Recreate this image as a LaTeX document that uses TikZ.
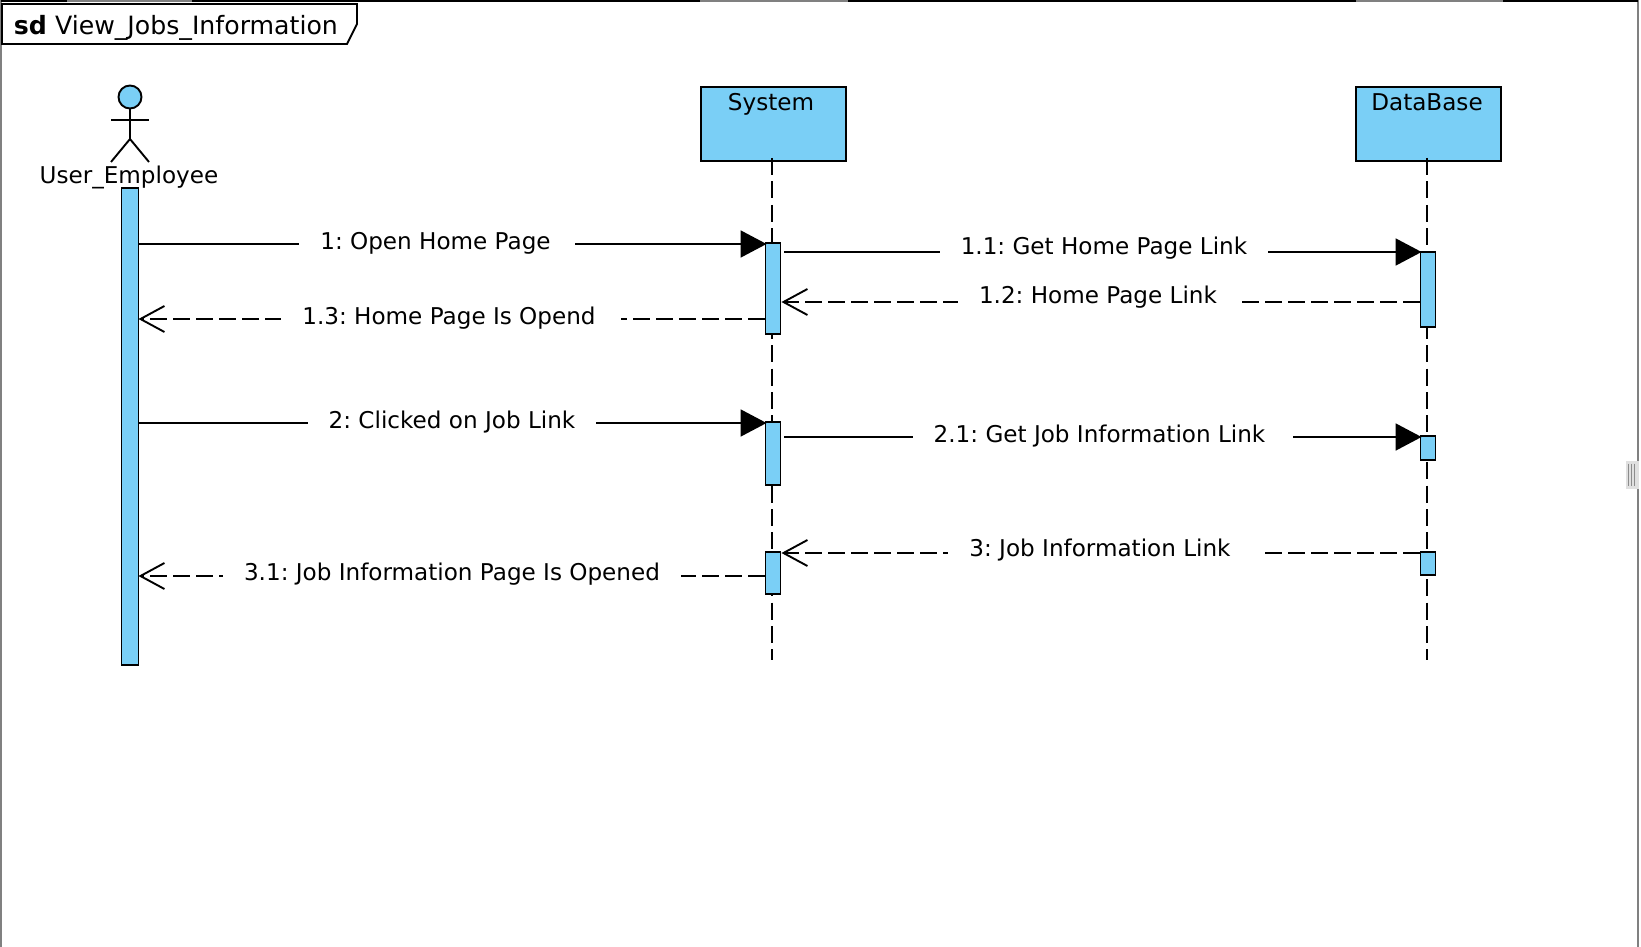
\documentclass[tikz,border=0pt]{standalone}
\usepackage{fontspec}
\setmainfont{DejaVu Sans}
\usepackage{xcolor}
\usetikzlibrary{arrows.meta, positioning, calc}
\definecolor{lifeblue}{HTML}{7ACFF6}
\frenchspacing
\begin{document}
\begin{tikzpicture}[
    x=1pt, y=-1pt,
    line width=1.9pt,
    headbox/.style={rectangle, draw, fill=lifeblue, minimum width=145pt, minimum height=74pt, anchor=north west, inner sep=0pt},
    headtext/.style={font=\fontsize{23.1}{28}\selectfont, anchor=base},
    activation/.style={rectangle, draw, fill=lifeblue, minimum width=15pt, anchor=north, inner sep=0pt},
    lifeline/.style={dash pattern=on 17pt off 6.4pt},
    msglabel/.style={fill=white, font=\fontsize{23.1}{28}\selectfont, inner xsep=21pt, inner ysep=2pt},
    call/.style={-{Triangle[length=26pt, width=27pt]}},
    reply/.style={-{Straight Barb[length=24pt, width=26pt]}, dash pattern=on 17pt off 6pt},
  ]
    \useasboundingbox (0,0) rectangle (1641,947);

    % Frame
    \draw[gray, line width=1.2pt] (1,947) -- (1,1) -- (1638,1) -- (1638,947);
    \draw[black, line width=1.6pt] (1,1) -- (67,1) (192,1) -- (700,1) (848,1) -- (1356,1) (1503,1) -- (1638,1);
    \node[draw, line width=1pt, fill=black!12, draw=black!12, minimum width=12pt, minimum height=27pt, inner sep=0pt] (grip) at (1632,474.5) {};
    \foreach \gx in {-4,-1,2} {
      \draw[black!45, line width=1pt] ($(grip.center)+(\gx,-11)$) -- ($(grip.center)+(\gx,11)$);
    }

    % Tab
    \draw[fill=white] (2,4) -- (357,4) -- (357,24) -- (347,44) -- (2,44) -- cycle;
    \node[anchor=base west, inner sep=0pt, font=\fontsize{25.2}{28}\selectfont] (title) at (13,35) {\textbf{sd}\hspace{0.32em}View\_Jobs\_Information};

    % User_Employee
    \node[circle, draw, fill=lifeblue, minimum size=23pt, inner sep=0pt] (head) at (130,97) {};
    \coordinate (hip) at (130,139);
    \draw (head.south) -- (hip);
    \draw (111,120) -- (149,120);
    \draw (111,162) -- (hip) -- (149,162);
    \node[headtext] (user) at (129,183) {User\_Employee};
    \node[activation, minimum width=17pt, minimum height=477pt] (useract) at (130,187) {};

    % System
    \node[headbox] (system) at (700,86) {};
    \node[headtext] (systemname) at (771,111) {System};
    \coordinate (sysend) at (772,660);
    \draw[lifeline] (772,158) -- (sysend);
    \node[activation, minimum height=91pt] (sysone) at (773,242) {};
    \node[activation, minimum height=63pt] (systwo) at (773,421) {};
    \node[activation, minimum height=42pt] (systhree) at (773,551) {};

    % DataBase
    \node[headbox] (database) at (1355,86) {};
    \node[headtext] (databasename) at (1427,111) {DataBase};
    \coordinate (dbend) at (1427,660);
    \draw[lifeline] (1427,158) -- (dbend);
    \node[activation, minimum height=75pt] (dbone) at (1428,251) {};
    \node[activation, minimum height=24pt] (dbtwo) at (1428,435) {};
    \node[activation, minimum height=23pt] (dbthree) at (1428,551) {};

    % Message rows
    \coordinate (rowa) at (0,244);
    \coordinate (rowb) at (0,252);
    \coordinate (rowc) at (0,302);
    \coordinate (rowd) at (0,319);
    \coordinate (rowe) at (0,423);
    \coordinate (rowf) at (0,437);
    \coordinate (rowg) at (0,553);
    \coordinate (rowh) at (0,576);

    % Messages
    \draw[call] (useract.east |- rowa) -- ([xshift=2pt]sysone.west |- rowa);
    \draw[call] ([xshift=3pt]sysone.east |- rowb) -- ([xshift=2pt]dbone.west |- rowb);
    \draw[reply] (dbone.west |- rowc) -- (sysone.east |- rowc);
    \draw[reply] (sysone.west |- rowd) -- ([xshift=-1pt]useract.east |- rowd);
    \draw[call] (useract.east |- rowe) -- ([xshift=2pt]systwo.west |- rowe);
    \draw[call] ([xshift=3pt]systwo.east |- rowf) -- ([xshift=2pt]dbtwo.west |- rowf);
    \draw[reply] (dbthree.west |- rowg) -- (systhree.east |- rowg);
    \draw[reply] (systhree.west |- rowh) -- ([xshift=-1pt]useract.east |- rowh);

    % Labels
    \node[msglabel] (msgone) at (437,243) {1: Open Home Page\hspace*{3pt}};
    \node[msglabel] (msgoneone) at (1104,248) {1.1: Get Home Page Link};
    \node[msglabel] (msgonetwo) at (1098,297) {1.2: Home Page Link};
    \node[msglabel] (msgonethree) at (451,318) {1.3: Home Page Is Opend\hspace*{4pt}};
    \node[msglabel] (msgtwo) at (452,422) {2: Clicked on Job Link};
    \node[msglabel] (msgtwoone) at (1103,436) {2.1: Get Job Information Link\hspace*{7pt}};
    \node[msglabel] (msgthree) at (1104,550) {3: Job Information Link\hspace*{8pt}};
    \node[msglabel] (msgthreeone) at (452,574) {3.1: Job Information Page Is Opened};

  \end{tikzpicture}
\end{document}
